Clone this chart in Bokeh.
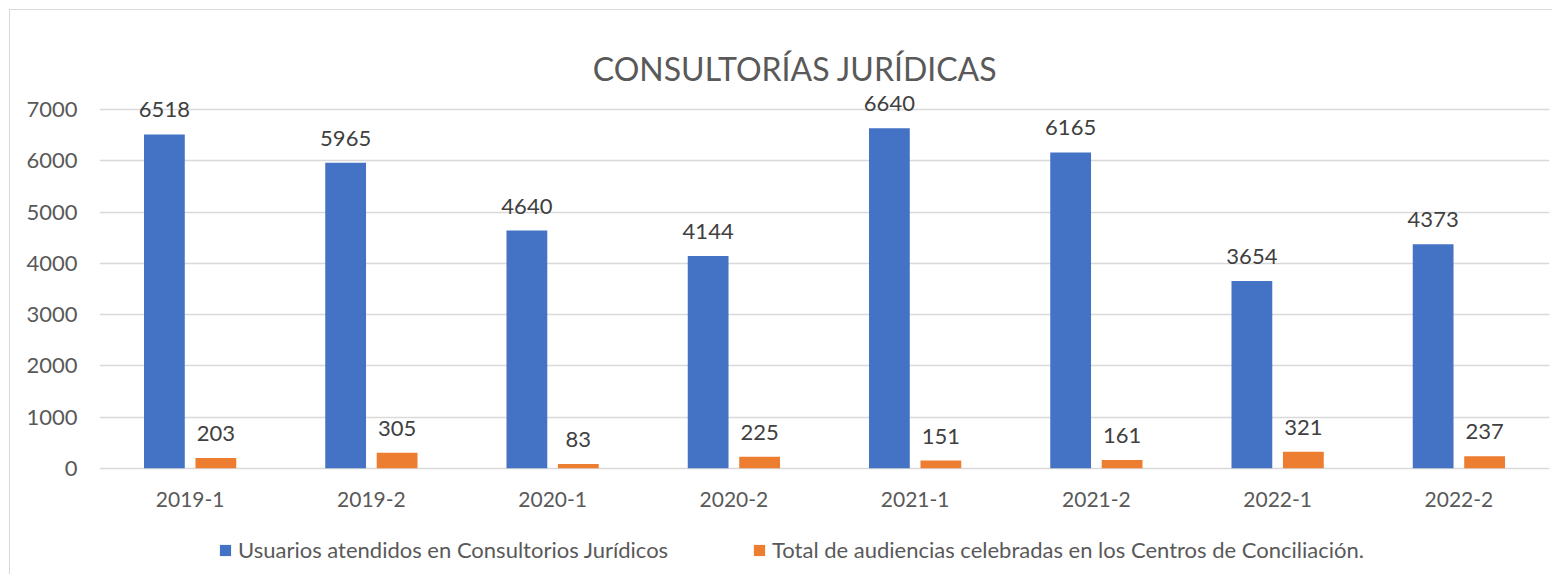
from bokeh.plotting import figure
from bokeh.models import ColumnDataSource, LabelSet, Label, Legend, LegendItem, Range1d, FixedTicker
from bokeh.core.properties import value
from bokeh.transform import dodge
from bokeh.embed import file_html
from bokeh.resources import INLINE

periods = ["2019-1", "2019-2", "2020-1", "2020-2", "2021-1", "2021-2", "2022-1", "2022-2"]
usuarios = [6518, 5965, 4640, 4144, 6640, 6165, 3654, 4373]
audiencias = [203, 305, 83, 225, 151, 161, 321, 237]
y_ticks = [0, 1000, 2000, 3000, 4000, 5000, 6000, 7000]

title_text = "CONSULTORÍAS JURÍDICAS"
name_usuarios = "Usuarios atendidos en Consultorios Jurídicos"
name_audiencias = "Total de audiencias celebradas en los Centros de Conciliación."

BLUE = "#4472C4"
ORANGE = "#ED7D31"
TXT = "#595959"
FONT = "Lato"

src = ColumnDataSource(dict(
    periods=periods, usuarios=usuarios, audiencias=audiencias,
    lab_u=[str(v) for v in usuarios], lab_a=[str(v) for v in audiencias],
    ylab=[-606] * len(periods),
))

p = figure(x_range=periods, y_range=Range1d(-2092, 8936), width=1543, height=565,
           output_backend="svg", toolbar_location=None, x_axis_location=None,
           min_border_left=89, min_border_right=4, min_border_top=0, min_border_bottom=0)
p.margin = (9, 0, 0, 9)
p.styles = {"border-left": "1px solid #d9d9d9", "border-top": "1px solid #d9d9d9"}
p.outline_line_color = None
p.background_fill_color = "white"
p.border_fill_color = "white"

r1 = p.vbar(x=dodge("periods", -0.142, range=p.x_range), top="usuarios", width=0.225,
            source=src, color=BLUE, line_color=None)
r2 = p.vbar(x=dodge("periods", 0.142, range=p.x_range), top="audiencias", width=0.225,
            source=src, color=ORANGE, line_color=None)

for col, lab, off in (("usuarios", "lab_u", -0.142), ("audiencias", "lab_a", 0.142)):
    ls = LabelSet(x=dodge("periods", off, range=p.x_range), y=col, text=lab, source=src,
                  y_offset=17, text_align="center", text_baseline="alphabetic",
                  text_font=value(FONT), text_font_size="22px", text_color="#404040")
    p.add_layout(ls)

# category labels (x axis)
p.add_layout(LabelSet(x="periods", y="ylab", text="periods", source=src,
                      text_align="center", text_baseline="middle",
                      text_font=value(FONT), text_font_size="21px", text_color=TXT))

# y axis
p.yaxis.ticker = FixedTicker(ticks=y_ticks)
ax = p.yaxis[0]
ax.axis_line_color = None
ax.major_tick_line_color = None
ax.minor_tick_line_color = None
ax.major_label_text_font = FONT
ax.major_label_text_font_size = "22px"
ax.major_label_text_color = TXT
ax.major_label_standoff = 16

for g in p.grid:
    if g.dimension == 0:
        g.visible = False
    else:
        g.grid_line_color = "#d9d9d9"
        g.grid_line_width = 1.3
        g.ticker = FixedTicker(ticks=y_ticks)

# title
p.add_layout(Label(x=3.838, y=7802, text=title_text, text_align="center",
                   text_baseline="alphabetic", text_font=FONT, text_font_size="32px",
                   text_color=TXT))

# legends
for r, name, xloc in ((r1, name_usuarios, 119), (r2, name_audiencias, 653)):
    lg = Legend(items=[LegendItem(label=name, renderers=[r])], location=(xloc, 12),
                orientation="horizontal", padding=0, margin=0, border_line_color=None,
                background_fill_alpha=0, glyph_width=14, glyph_height=14,
                label_height=24, label_standoff=6, label_text_font=FONT,
                label_text_font_size="22px", label_text_color=TXT)
    p.add_layout(lg, "center")

open("out.html", "w").write(file_html(p, INLINE))
